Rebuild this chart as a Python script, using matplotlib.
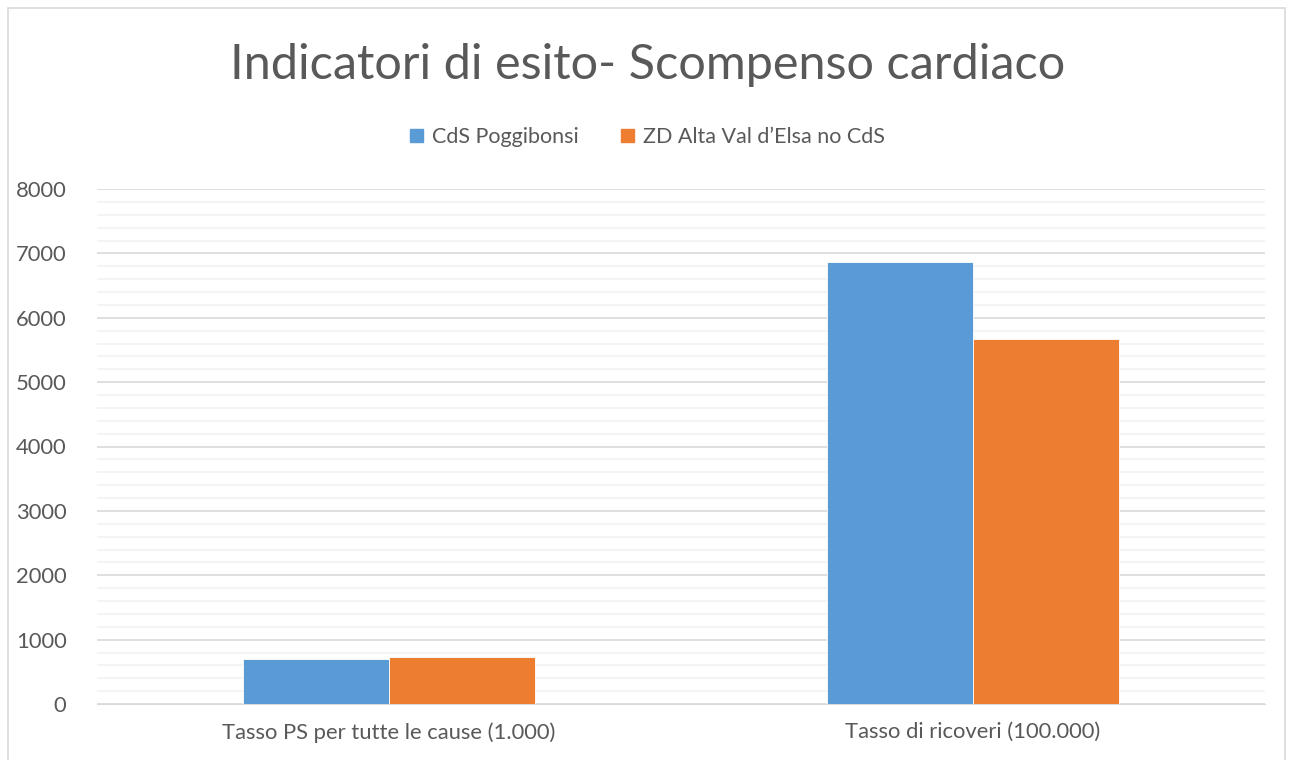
import matplotlib
matplotlib.use("Agg")
import matplotlib.pyplot as plt
import matplotlib.patches as mpatches
from matplotlib.ticker import MultipleLocator
import numpy as np

categories = ["Tasso PS per tutte le cause (1.000)", "Tasso di ricoveri (100.000)"]
series_names = ["CdS Poggibonsi", "ZD Alta Val d\u2019Elsa no CdS"]
cds_values = [703, 6865]
zd_values = [725, 5675]
colors = ["#5B9BD5", "#ED7D31"]

plt.rcParams['font.family'] = ['Lato', 'DejaVu Sans']
text_color = "#595959"

fig = plt.figure(figsize=(12.95, 7.6), dpi=100)
ax = fig.add_axes([97 / 1295, 56 / 760, 1168 / 1295, 515 / 760])

x = np.arange(len(categories))
width = 0.25
ax.bar(x - width / 2, cds_values, width, color=colors[0], edgecolor="white", linewidth=0.6, zorder=3)
ax.bar(x + width / 2, zd_values, width, color=colors[1], edgecolor="white", linewidth=0.6, zorder=3)

ax.set_xlim(-0.5, 1.5)
ax.set_ylim(0, 8000)
ax.yaxis.set_major_locator(MultipleLocator(1000))
ax.yaxis.set_minor_locator(MultipleLocator(200))
ax.grid(axis="y", which="major", color="#d9d9d9", linewidth=1.2, zorder=0)
ax.grid(axis="y", which="minor", color="#f2f2f2", linewidth=1.2, zorder=0)
ax.set_xticks(x)
ax.set_xticklabels(categories)
ax.tick_params(axis="both", which="both", length=0, colors=text_color, labelsize=15.8)
ax.tick_params(axis="x", pad=13)
ax.tick_params(axis="y", pad=22)
for s in ["top", "right", "left"]:
    ax.spines[s].set_visible(False)
ax.spines["bottom"].set_color("#d9d9d9")

fig.text(0.5, 1 - 65 / 760, "Indicatori di esito- Scompenso cardiaco", ha="center", va="center",
         fontsize=35, color=text_color)

handles = [mpatches.Patch(color=c, label=n) for c, n in zip(colors, series_names)]
fig.legend(handles=handles, loc="center", bbox_to_anchor=(0.5, 1 - 137 / 760), ncol=2,
           frameon=False, fontsize=15.5, labelcolor=text_color, handlelength=0.6, handleheight=0.6,
           columnspacing=2.0, handletextpad=0.4)

# chart area border
fig.patches.append(mpatches.Rectangle((8 / 1295, -0.01), 1277 / 1295, 1 - 8 / 760 + 0.01,
                                      transform=fig.transFigure, fill=False,
                                      edgecolor="#d9d9d9", linewidth=1.2))

plt.savefig("out.png", dpi=100)
